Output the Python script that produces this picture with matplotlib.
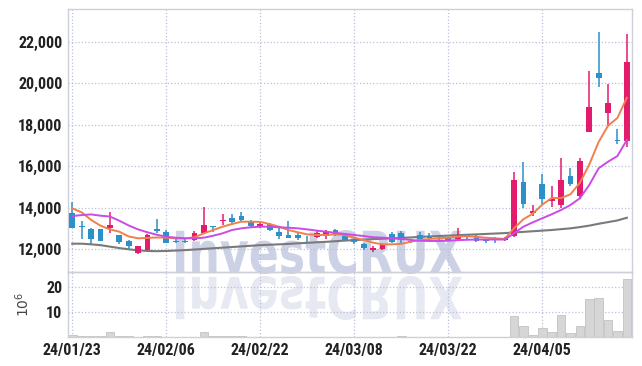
# %%
import matplotlib
matplotlib.use("Agg")
import matplotlib.pyplot as plt
from matplotlib.textpath import TextPath
from matplotlib.patches import PathPatch
from matplotlib.font_manager import FontProperties, fontManager
from matplotlib.transforms import Affine2D

# %%
# 1. 데이터
dates = ['24/01/23', '24/01/24', '24/01/25', '24/01/26', '24/01/29', '24/01/30', '24/01/31',
         '24/02/01', '24/02/02', '24/02/05', '24/02/06', '24/02/07', '24/02/08', '24/02/13',
         '24/02/14', '24/02/15', '24/02/16', '24/02/19', '24/02/20', '24/02/21', '24/02/22',
         '24/02/23', '24/02/26', '24/02/27', '24/02/28', '24/02/29', '24/03/04', '24/03/05',
         '24/03/06', '24/03/07', '24/03/08', '24/03/11', '24/03/12', '24/03/13', '24/03/14',
         '24/03/15', '24/03/18', '24/03/19', '24/03/20', '24/03/21', '24/03/22', '24/03/25',
         '24/03/26', '24/03/27', '24/03/28', '24/03/29', '24/04/01', '24/04/02', '24/04/03',
         '24/04/04', '24/04/05', '24/04/08', '24/04/09', '24/04/11', '24/04/12', '24/04/15',
         '24/04/16', '24/04/17', '24/04/18', '24/04/19']

opens = [13734, 13110, 12978, 12960, 13011, 12690, 12400, 11807, 11960, 12992,
         12819, 12414, 12414, 12448, 12800, 13122, 13363, 13493, 13604, 13363,
         13122, 13218, 12848, 12690, 12670, 12510, 12578, 12640, 12915, 12655,
         12480, 12240, 11952, 12000, 12722, 12800, 12350, 12690, 12640, 12560,
         12560, 12480, 12700, 12640, 12460, 12530, 12433, 12640, 15242, 13763,
         15146, 14327, 14120, 15531, 14582, 17665, 20478, 18580, 17265, 17231]
highs = [14290, 13380, 13040, 12990, 13780, 12700, 12450, 12180, 12750, 13445,
         12930, 12530, 12500, 12880, 14050, 13130, 13686, 13700, 13811, 13400,
         13290, 13280, 13010, 13360, 12830, 12630, 12880, 12950, 12960, 12700,
         12560, 12318, 12140, 12290, 12848, 12880, 12500, 12850, 12800, 12640,
         12600, 13010, 12750, 12690, 12480, 12600, 12580, 15709, 16220, 14134,
         15613, 15064, 16412, 15902, 16383, 20589, 22482, 19948, 17780, 22357]
lows = [13040, 12480, 12270, 12400, 12770, 12240, 12014, 11760, 11950, 12800,
        12300, 12318, 12300, 12400, 12790, 12820, 13170, 13200, 13330, 13090,
        13040, 12880, 12480, 12530, 12440, 12370, 12550, 12496, 12640, 12400,
        12270, 11952, 11890, 11952, 12318, 12318, 12300, 12450, 12480, 12450,
        12400, 12450, 12500, 12370, 12290, 12290, 12380, 12592, 14004, 13618,
        14182, 14023, 13975, 15035, 14423, 17636, 19832, 17988, 17058, 16913]
closes = [13040, 13060, 12496, 12414, 13170, 12366, 12173, 12159, 12700, 12896,
          12318, 12366, 12366, 12770, 13170, 13060, 13410, 13330, 13411, 13137,
          13218, 12944, 12640, 12560, 12530, 12480, 12785, 12896, 12690, 12462,
          12337, 12048, 12077, 12240, 12366, 12448, 12414, 12480, 12560, 12480,
          12414, 12640, 12600, 12385, 12385, 12448, 12560, 15338, 14182, 13860,
          14437, 14423, 15338, 15131, 16253, 18840, 20237, 19062, 17217, 21037]

# 이동평균선
ma5 = [13975, 13780, 13420, 13140, 12960, 12850, 12620, 12530, 12550, 12570,
       12560, 12530, 12530, 12578, 12770, 12930, 13090, 13218, 13330, 13330,
       13320, 13218, 13090, 12930, 12820, 12720, 12690, 12690, 12720, 12690,
       12560, 12450, 12320, 12240, 12240, 12260, 12366, 12450, 12496, 12530,
       12560, 12610, 12630, 12600, 12560, 12530, 12500, 13010, 13450, 13720,
       14150, 14470, 14470, 14650, 15200, 16080, 17170, 17950, 18330, 19300]
ma10 = [13600, 13650, 13680, 13620, 13580, 13380, 13150, 12960, 12820, 12700,
        12607, 12560, 12530, 12530, 12560, 12655, 12770, 12930, 13010, 13060,
        13090, 13090, 13060, 13040, 13010, 12960, 12900, 12850, 12790, 12740,
        12690, 12640, 12580, 12560, 12530, 12500, 12450, 12410, 12400, 12400,
        12414, 12440, 12460, 12470, 12470, 12470, 12470, 12770, 13090, 13300,
        13493, 13686, 13893, 14134, 14456, 15097, 15902, 16220, 16494, 17265]
ma_long = [12270, 12270, 12240, 12200, 12130, 12060, 12000, 11950, 11920, 11910,
           11920, 11940, 11960, 11990, 12020, 12050, 12080, 12110, 12140, 12170,
           12200, 12220, 12240, 12260, 12290, 12310, 12340, 12360, 12390, 12420,
           12440, 12470, 12490, 12510, 12530, 12550, 12570, 12600, 12620, 12640,
           12660, 12680, 12700, 12720, 12740, 12760, 12780, 12810, 12840, 12870,
           12900, 12930, 12970, 13010, 13070, 13140, 13230, 13310, 13390, 13520]

volumes = [0.67, 0.27, 0.27, 0.27, 1.9, 0.4, 0.4, 0.13, 0.4, 0.4,
           0.1, 0.1, 0.1, 0.1, 1.9, 0.4, 0.3, 0.3, 0.3, 0.1,
           0.08, 0.08, 0.08, 0.08, 0.08, 0.08, 0.08, 0.08, 0.08, 0.08,
           0.08, 0.08, 0.08, 0.08, 0.1, 0.3, 0.05, 0.05, 0.05, 0.05,
           0.05, 0.05, 0.05, 0.05, 0.05, 0.05, 0.05, 8.2, 4.2, 0.7,
           3.7, 1.8, 8.6, 1.4, 4.2, 15.0, 15.3, 6.6, 2.2, 23.2]

price_ticks = [12000, 14000, 16000, 18000, 20000, 22000]
vol_ticks = [10, 20]
date_tick_idx = [0, 10, 20, 30, 40, 50]

# %%
# 좁은 글꼴 찾기 (없으면 DejaVu Sans)
names = {f.name for f in fontManager.ttflist}
narrow = [n for n in ['Roboto Condensed', 'Liberation Sans Narrow', 'DejaVu Sans Condensed',
                      'Open Sans Condensed', 'Noto Sans Display'] if n in names]
if narrow:
    tick_font = FontProperties(family=narrow[0], weight='bold', size=11.5)
else:
    tick_font = FontProperties(family='DejaVu Sans', weight='bold', size=10.5, stretch='condensed')

# %%
# 2. 그리기
up_color = '#e31b6d'
down_color = '#2b91c8'
grid_color = '#b9c0d8'
spine_color = '#cdd0da'

fig = plt.figure(figsize=(6.42, 3.66), dpi=100)
fig.patch.set_facecolor('white')
ax1 = fig.add_axes([68 / 642, 1 - 272 / 366, 564 / 642, 263 / 366])
ax2 = fig.add_axes([68 / 642, 1 - 337 / 366, 564 / 642, 65 / 366], sharex=ax1)
for ax in (ax1, ax2):
    ax.set_facecolor('none')

# 워터마크 (InvestCRUX + 반사)
wm_path = TextPath((0, 0), 'InvestCRUX', size=100,
                   prop=FontProperties(family='DejaVu Sans', weight='bold'))
ext = wm_path.get_extents()
sx = 286 / ext.width
sy = 44 / ext.height
tr_main = Affine2D().translate(-ext.x0, -ext.y0).scale(sx, sy).translate(176, 366 - 274)
tr_refl = Affine2D().translate(-ext.x0, -ext.y0).scale(sx, -sy).translate(176, 366 - 276)
fig.add_artist(PathPatch(wm_path, transform=tr_main, facecolor='#ccd1e5', edgecolor='none', zorder=-1))
fig.add_artist(PathPatch(wm_path, transform=tr_refl, facecolor='#e6e8f2', edgecolor='none', zorder=-1))

x = list(range(len(closes)))
colors = [up_color if c >= o else down_color for o, c in zip(opens, closes)]
body_bottom = [min(o, c) for o, c in zip(opens, closes)]
body_height = [max(abs(c - o), 35) for o, c in zip(opens, closes)]

ax1.plot(x, ma_long, color='#7a7a7a', linewidth=1.5, zorder=2)
ax1.vlines(x, lows, highs, colors=colors, linewidth=1.1, zorder=3)
ax1.bar(x, body_height, bottom=body_bottom, width=0.62, color=colors, zorder=4)
ax1.plot(x, ma5, color='#f0804a', linewidth=1.4, zorder=5)
ax1.plot(x, ma10, color='#cc4ae8', linewidth=1.4, zorder=5)

ax1.set_ylim(10907, 23575)
ax1.set_yticks(price_ticks)
ax1.set_yticklabels([f'{t:,}' for t in price_ticks])
ax1.set_xlim(-0.45, 59.55)
ax1.set_xticks(date_tick_idx)
ax1.tick_params(axis='x', labelbottom=False, length=0)
ax1.tick_params(axis='y', length=0, pad=4, colors='#222222')

# 거래량
ax2.bar(x, volumes, width=0.92, color='#d6d6d6', edgecolor='#c2c2c2', linewidth=0.6, zorder=2)
ax2.set_ylim(0, 25.8)
ax2.set_yticks(vol_ticks)
ax2.set_yticklabels([str(t) for t in vol_ticks])
ax2.set_xticks(date_tick_idx)
ax2.set_xticklabels([dates[i] for i in date_tick_idx])
ax2.tick_params(axis='both', length=0, colors='#222222')
ax2.tick_params(axis='y', pad=4)
ax2.tick_params(axis='x', pad=4)
ax2.set_ylabel(r'$10^{6}$', fontsize=10, color='#444444')
ax2.yaxis.set_label_coords(-0.064, 0.5)

for ax in (ax1, ax2):
    ax.grid(True, linestyle=':', color=grid_color, linewidth=0.9)
    ax.set_axisbelow(True)
    for lab in ax.get_xticklabels() + ax.get_yticklabels():
        lab.set_fontproperties(tick_font)
    for s in ax.spines.values():
        s.set_color(spine_color)
        s.set_linewidth(1.0)

fig.savefig('out.png', dpi=100)
